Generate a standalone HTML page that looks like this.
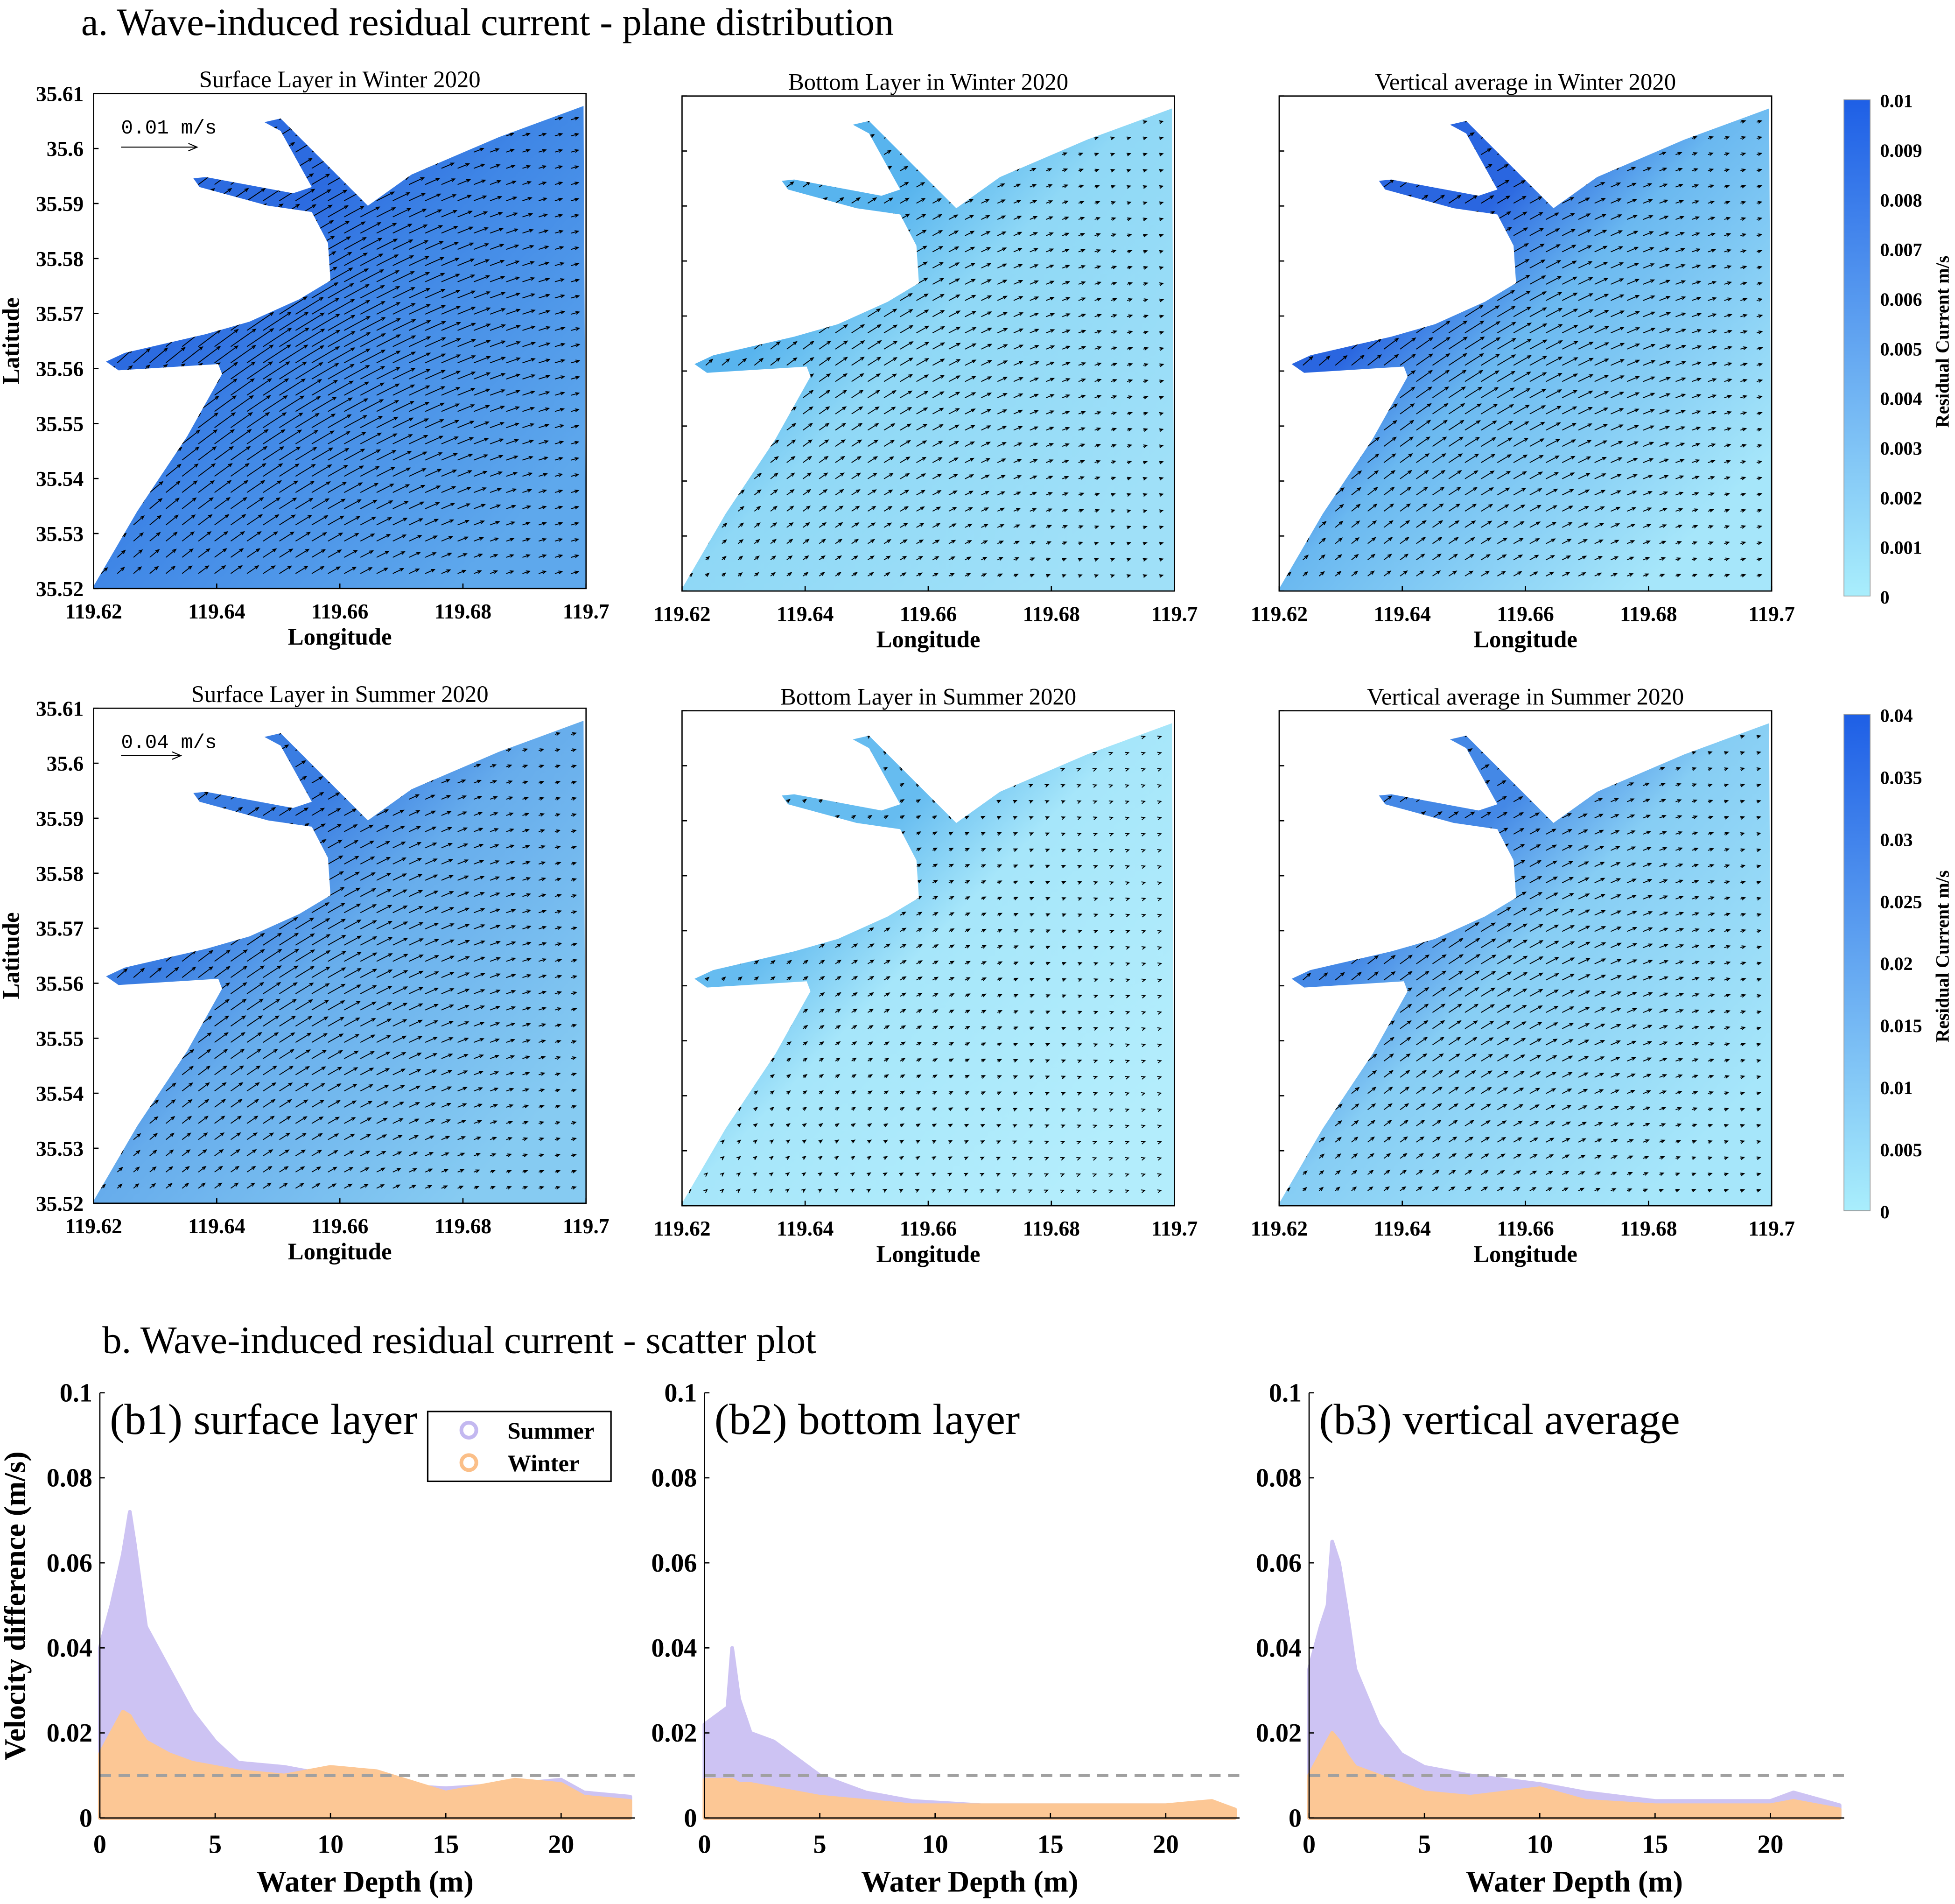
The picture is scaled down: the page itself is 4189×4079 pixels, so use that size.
<!DOCTYPE html>
<html><head><meta charset="utf-8"><style>
html,body{margin:0;padding:0;background:#fff}
svg{display:block}
text{font-family:"Liberation Serif",serif;fill:#000}
.b{font-weight:bold}
.mono{font-family:"Liberation Mono",monospace}
</style></head><body>
<svg id="fig" width="4189" height="4079" viewBox="0 0 1568 1527" xmlns="http://www.w3.org/2000/svg">
<defs>
<clipPath id="coastClip"><polygon id="coastPoly" points="393,10 395,397 0,397 0,395 35,335 75,275 103,225 100,217 20,222 10,215 25,208 90,193 125,183 165,165 190,150 188,120 175,95 140,90 85,75 80,68 90,67 160,80 175,75 150,30 137,23 150,20 185,55 220,90 255,65 325,35 393,10"/></clipPath>
<linearGradient id="cb1" x1="0" y1="1" x2="0" y2="0">
<stop offset="0" stop-color="#a9eefc"/><stop offset="1" stop-color="#1e5fe6"/></linearGradient>
</defs>
<text x="65" y="28" font-size="31">a. Wave-induced residual current - plane distribution</text>
<text x="82" y="1085" font-size="31">b. Wave-induced residual current - scatter plot</text>
<g id="maps"></g>
<g id="scatters"></g>
</svg>
<script>
const NS='http://www.w3.org/2000/svg';
const svg=document.getElementById('fig');
function mk(tag,attrs,parent){const e=document.createElementNS(NS,tag);for(const k in attrs)e.setAttribute(k,attrs[k]);(parent||svg).appendChild(e);return e;}
function txt(s,attrs,parent){const e=mk('text',attrs,parent);e.textContent=s;return e;}

// ---------- Map panels ----------
const panelTitles=['Surface Layer in Winter 2020','Bottom Layer in Winter 2020','Vertical average in Winter 2020','Surface Layer in Summer 2020','Bottom Layer in Summer 2020','Vertical average in Summer 2020'];
const panelX=[75,547,1026,75,547,1026];
const panelY=[75,77,77,568,570,570];
const innerColor=['#2c6be0','#58b4ee','#2a66e0','#3a7de2','#66bcf0','#4488e6'];
const midColor=['#3f86e6','#8fd8f6','#6ab8f0','#66acec','#a6e6fa','#86cdf4'];
const outerColor=['#5ea8ec','#9fe0f8','#a6e6fa','#86cbf2','#b3edfc','#a6e6fa'];
const arrowLen=[20,9,13,13,4,10];
const latTicks=['35.61','35.6','35.59','35.58','35.57','35.56','35.55','35.54','35.53','35.52'];
const lonTicks=['119.62','119.64','119.66','119.68','119.7'];
const maps=document.getElementById('maps');
const defs=svg.querySelector('defs');
for(let p=0;p<6;p++){
  const W=395,H=397,x0=panelX[p],y0=panelY[p];
  const lg=mk('linearGradient',{id:'rg'+p,x1:'0.22',y1:'0.42',x2:'0.78',y2:'0.95'},defs);
  mk('stop',{offset:'0','stop-color':innerColor[p]},lg);
  mk('stop',{offset:'0.3','stop-color':midColor[p]},lg);
  mk('stop',{offset:'1','stop-color':outerColor[p]},lg);
  const g=mk('g',{transform:`translate(${x0},${y0})`},maps);
  
  
  const water=mk('polygon',{points:document.getElementById('coastPoly').getAttribute('points'),fill:`url(#rg${p})`},g);
  
  
  const ag=mk('g',{'clip-path':'url(#coastClip)',stroke:'#000','stroke-width':0.7,fill:'none'},g);
  
  
  for(let yy=8;yy<H;yy+=13){for(let xx=6;xx<W;xx+=13){
    const d=Math.hypot(xx-150,yy-200);
    const s=arrowLen[p]*Math.max(0.3,1.4-d/220);
    const a=-0.5+(xx-200)/800;
    const x2=xx+s*Math.cos(a),y2=yy+s*Math.sin(a);
    mk('path',{d:`M${xx},${yy}L${x2},${y2}M${x2-3*Math.cos(a-0.4)},${y2-3*Math.sin(a-0.4)}L${x2},${y2}L${x2-3*Math.cos(a+0.4)},${y2-3*Math.sin(a+0.4)}`},ag);
  }}
  const fr=mk('rect',{x:0,y:0,width:W,height:H,fill:'none',stroke:'#000','stroke-width':1},g);
  
  
  const t=txt(panelTitles[p],{x:W/2,y:-5,'font-size':19,'text-anchor':'middle'},g);
  
  
  latTicks.forEach((l,i)=>{const y=i*H/9;mk('line',{x1:0,y1:y,x2:4,y2:y,stroke:'#000'},g);
    if(p%3==0){const e=txt(l,{x:-8,y:y+6,'font-size':17,'text-anchor':'end',class:'b'},g);
    
    }});
  lonTicks.forEach((l,i)=>{const x=i*W/4;mk('line',{x1:x,y1:H,x2:x,y2:H-4,stroke:'#000'},g);
    const e=txt(l,{x:x,y:H+24,'font-size':17,'text-anchor':'middle',class:'b'},g);
    
    });
  const xl=txt('Longitude',{x:W/2,y:H+45,'font-size':19,'text-anchor':'middle',class:'b'},g);
  
  
  if(p%3==0){
    const yl=txt('Latitude',{x:0,y:0,'font-size':19,'text-anchor':'middle',class:'b',transform:`translate(-60,${H/2}) rotate(-90)`},g);
    
    
    const sc=txt(p==0?'0.01 m/s':'0.04 m/s',{x:22,y:32,'font-size':16,class:'mono'},g);
    
    
    const sl=mk('path',{d:`M22,${p==0?43:38}h${p==0?61:48}m-7,-3l7,3l-7,3`,stroke:'#000','stroke-width':0.8,fill:'none'},g);
    
    
  }
}
// colorbars
const cbTicks1=['0.01','0.009','0.008','0.007','0.006','0.005','0.004','0.003','0.002','0.001','0'];
const cbTicks2=['0.04','0.035','0.03','0.025','0.02','0.015','0.01','0.005','0'];
[[80,398,cbTicks1],[573,398,cbTicks2]].forEach(([y0,h,ticks],k)=>{
  const g=mk('g',{},maps);
  
  
  mk('rect',{x:1479,y:y0,width:21,height:h,fill:'url(#cb1)',stroke:'#999','stroke-width':0.6},g);
  ticks.forEach((l,i)=>{const y=y0+i*h/(ticks.length-1);
    const e=txt(l,{x:1508,y:y+6,'font-size':15,class:'b'},g);
    
    });
  const e=txt('Residual Current m/s',{x:0,y:0,'font-size':15,'text-anchor':'middle',class:'b',transform:`translate(1563,${y0+h/2-5}) rotate(-90)`},g);
  
  
});

// ---------- Scatter envelopes (data) ----------
const b1Depth=[0,0.5,1,1.3,1.5,2,3,4,5,6,8,10,12,15,18,20,21,23];
const b1Summer=[0.04,0.05,0.062,0.072,0.065,0.045,0.035,0.025,0.018,0.013,0.012,0.01,0.008,0.007,0.008,0.009,0.006,0.005];
const b1Winter=[0.015,0.02,0.025,0.024,0.022,0.018,0.015,0.013,0.012,0.011,0.01,0.012,0.011,0.006,0.009,0.008,0.005,0.004];
const b2Depth=[0,0.5,1,1.2,1.5,2,3,4,5,7,9,12,15,18,20,22,23];
const b2Summer=[0.022,0.024,0.026,0.04,0.028,0.02,0.018,0.014,0.01,0.006,0.004,0.003,0.003,0.003,0.003,0.003,0.002];
const b2Winter=[0.009,0.009,0.009,0.009,0.008,0.008,0.007,0.006,0.005,0.004,0.003,0.003,0.003,0.003,0.003,0.004,0.002];
const b3Depth=[0,0.5,0.8,1,1.3,1.6,2,3,4,5,7,10,12,15,18,20,21,23];
const b3Summer=[0.035,0.045,0.05,0.065,0.06,0.05,0.035,0.022,0.015,0.012,0.01,0.008,0.006,0.004,0.004,0.004,0.006,0.003];
const b3Winter=[0.01,0.015,0.018,0.02,0.018,0.015,0.012,0.01,0.008,0.006,0.005,0.007,0.004,0.003,0.003,0.003,0.004,0.002];
const scatterTitles=['(b1) surface layer','(b2) bottom layer','(b3) vertical average'];
const depthTicks=[0,5,10,15,20];
const velTicks=[0,0.02,0.04,0.06,0.08,0.1];
const sets=[[b1Depth,b1Summer,b1Winter],[b2Depth,b2Summer,b2Winter],[b3Depth,b3Summer,b3Winter]];
const sx0=[80,565,1050];
const sg=document.getElementById('scatters');
sets.forEach(([dep,sum,win],k)=>{
  const X=d=>sx0[k]+d*18.5, Y=v=>1458-v*3410;
  const g=mk('g',{},sg);
  
  
  function area(vals,col,name){
    let pts=dep.map((d,i)=>X(d)+','+Y(vals[i])).join(' ');
    pts+=' '+X(dep[dep.length-1])+','+Y(0)+' '+X(0)+','+Y(0);
    const a=mk('polygon',{points:pts,fill:col,stroke:col,'stroke-width':3,'stroke-linejoin':'round'},g);
    
    
  }
  area(sum,'#cdc3f3','summer-points');
  area(win,'#fcc795','winter-points');
  const dl=mk('line',{x1:X(0),x2:X(23.2),y1:Y(0.01),y2:Y(0.01),stroke:'#a0a0a0','stroke-width':2.5,'stroke-dasharray':'9,6'},g);
  
  
  mk('line',{x1:X(0),x2:X(23.2),y1:Y(0),y2:Y(0),stroke:'#000','stroke-width':1},g);
  mk('line',{x1:X(0),x2:X(0),y1:Y(0),y2:Y(0.1),stroke:'#000','stroke-width':1},g);
  velTicks.forEach(v=>{mk('line',{x1:X(0),x2:X(0)+4,y1:Y(v),y2:Y(v),stroke:'#000'},g);
    const e=txt(String(v),{x:X(0)-6,y:Y(v)+7,'font-size':21,'text-anchor':'end',class:'b'},g);
    
    });
  depthTicks.forEach(d=>{mk('line',{x1:X(d),x2:X(d),y1:Y(0),y2:Y(0)-4,stroke:'#000'},g);
    const e=txt(String(d),{x:X(d),y:Y(0)+28,'font-size':21,'text-anchor':'middle',class:'b'},g);
    
    });
  const xt=txt('Water Depth (m)',{x:X(11.5),y:1517,'font-size':24,'text-anchor':'middle',class:'b'},g);
  
  
  const pt=txt(scatterTitles[k],{x:X(0)+8,y:1150,'font-size':35},g);
  
  
});
const yt=txt('Velocity difference (m/s)',{x:0,y:0,'font-size':24,'text-anchor':'middle',class:'b',transform:'translate(20,1288) rotate(-90)'},sg);


const lg=mk('g',{},sg);


mk('rect',{x:343,y:1132,width:147,height:56,fill:'#fff',stroke:'#000','stroke-width':1.2},lg);
mk('circle',{cx:376,cy:1147,r:6,fill:'none',stroke:'#c3b8f0','stroke-width':3},lg);
mk('circle',{cx:376,cy:1173,r:6,fill:'none',stroke:'#fbbf88','stroke-width':3},lg);
const l1=txt('Summer',{x:407,y:1154,'font-size':19,class:'b'},lg);


const l2=txt('Winter',{x:407,y:1180,'font-size':19,class:'b'},lg);


</script>
</body></html>
